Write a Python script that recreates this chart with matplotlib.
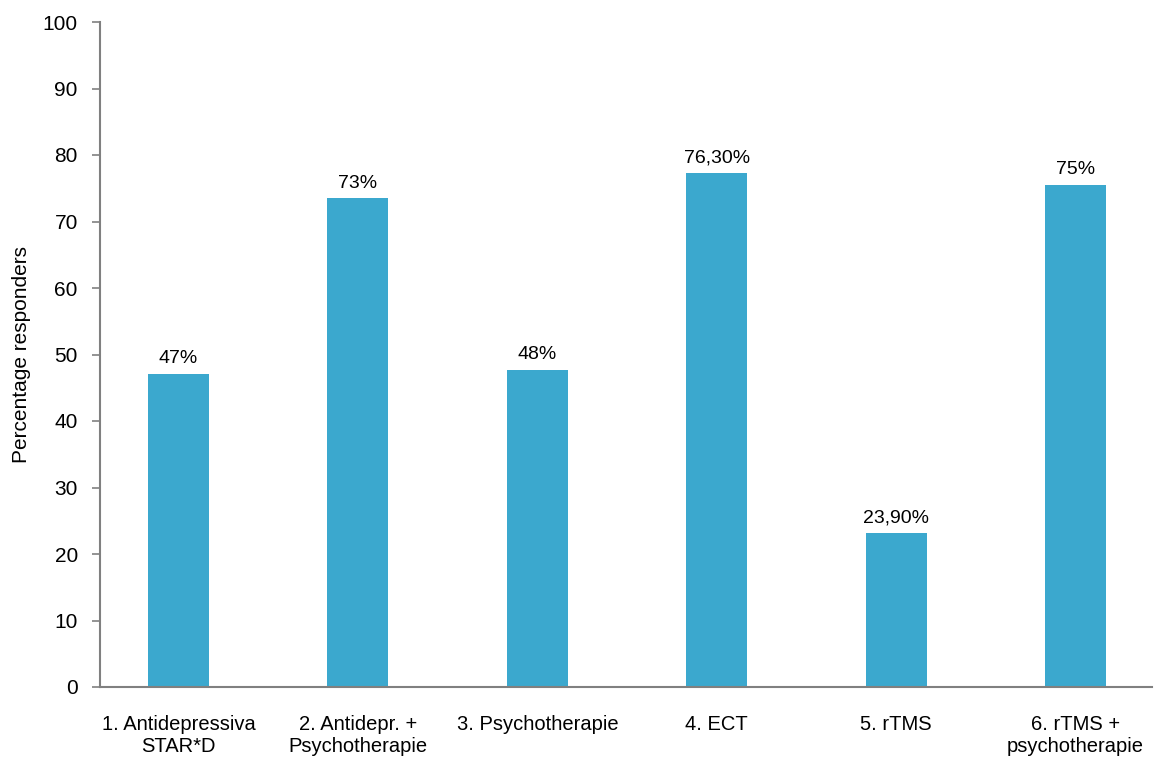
import matplotlib.pyplot as plt

categories = ["1. Antidepressiva\nSTAR*D", "2. Antidepr. +\nPsychotherapie", "3. Psychotherapie",
              "4. ECT", "5. rTMS", "6. rTMS +\npsychotherapie"]
values = [47.1, 73.5, 47.7, 77.3, 23.2, 75.5]
value_labels = ["47%", "73%", "48%", "76,30%", "23,90%", "75%"]

plt.rcParams['font.family'] = ['Liberation Sans', 'DejaVu Sans']

fig = plt.figure(figsize=(11.62, 7.6), dpi=100)
ax = fig.add_axes([100 / 1162, 1 - 687 / 760, 1052 / 1162, 665 / 760])

x = range(len(categories))
bars = ax.bar(x, values, width=0.34, color="#3BA8CE", zorder=2)
for b, lab in zip(bars, value_labels):
    ax.text(b.get_x() + b.get_width() / 2, b.get_height() + 1.0, lab,
            ha="center", va="bottom", fontsize=14)

ax.set_xlim(-0.4376, 5.426)
ax.set_ylim(0, 100)
ax.set_yticks(range(0, 101, 10))
ax.set_xticks(list(x))
ax.set_xticklabels(categories, fontsize=14.5, linespacing=1.2)
ax.tick_params(axis="x", length=0, pad=20)
ax.tick_params(axis="y", labelsize=15, length=6, width=1.2, color="#808080", pad=10)
ax.set_ylabel("Percentage responders", fontsize=15)
ax.yaxis.set_label_coords(-0.066, 0.5)

for s in ["top", "right"]:
    ax.spines[s].set_visible(False)
for s in ["left", "bottom"]:
    ax.spines[s].set_color("#808080")
    ax.spines[s].set_linewidth(1.5)

fig.savefig("out.png", dpi=100)
